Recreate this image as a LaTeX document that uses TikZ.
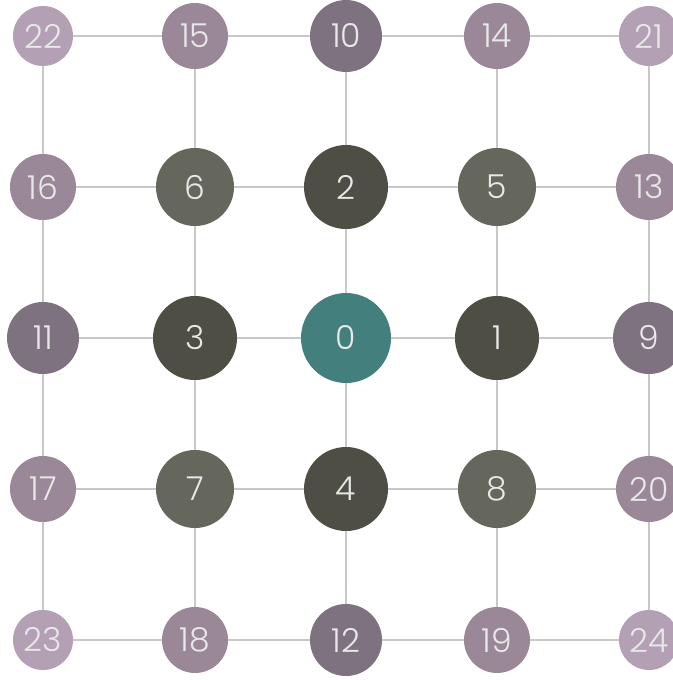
\documentclass[tikz,border=0pt]{standalone}
\usepackage{fontspec}
\setmainfont{Poppins}[UprightFont=* Light]
\definecolor{hubteal}{HTML}{427F7D}
\definecolor{ringone}{HTML}{4E4E45}
\definecolor{ringtwo}{HTML}{65665C}
\definecolor{ringthree}{HTML}{7E7280}
\definecolor{ringfour}{HTML}{9A8898}
\definecolor{ringfive}{HTML}{B3A0B4}
\definecolor{linkgray}{HTML}{C8C8C8}
\definecolor{labelwhite}{HTML}{E8E8E8}

\begin{document}
\begin{tikzpicture}[
  x=0.5pt,y=-0.5pt,
  every node/.style={font=\fontsize{16.5}{19}\selectfont,text=labelwhite},
  hop/.style={circle,inner sep=0pt},
  hub/.style={hop,fill=hubteal,minimum size=45pt},
  hopone/.style={hop,fill=ringone,minimum size=42pt},
  hoptwo/.style={hop,fill=ringtwo,minimum size=39pt},
  hopthree/.style={hop,fill=ringthree,minimum size=36pt},
  hopfour/.style={hop,fill=ringfour,minimum size=33pt},
  hopfive/.style={hop,fill=ringfive,minimum size=30pt},
  link/.style={draw=linkgray,line width=0.7pt},
  thicklink/.style={draw=linkgray,line width=1.1pt},
]
  \useasboundingbox (0,0) rectangle (673,680);
  \clip (0,0) rectangle (673,680);
  % Row 1
  \node[hopfive]  (n22) at (43,36)  {22};
  \node[hopfour]  (n15) at (195,36) {15};
  \node[hopthree] (n10) at (346,36) {10};
  \node[hopfour]  (n14) at (497,36) {14};
  \node[hopfive]  (n21) at (649,36) {21};
  % Row 2
  \node[hopfour]  (n16) at (43,187)  {16};
  \node[hoptwo]   (n6)  at (195,187) {6};
  \node[hopone]   (n2)  at (346,187) {2};
  \node[hoptwo]   (n5)  at (497,187) {5};
  \node[hopfour]  (n13) at (649,187) {13};
  % Row 3
  \node[hopthree] (n11) at (43,338)  {11};
  \node[hopone]   (n3)  at (195,338) {3};
  \node[hub]      (n0)  at (346,338) {0};
  \node[hopone]   (n1)  at (497,338) {1};
  \node[hopthree] (n9)  at (649,338) {9};
  % Row 4
  \node[hopfour]  (n17) at (43,489)  {17};
  \node[hoptwo]   (n7)  at (195,489) {7};
  \node[hopone]   (n4)  at (346,489) {4};
  \node[hoptwo]   (n8)  at (497,489) {8};
  \node[hopfour]  (n20) at (649,489) {20};
  % Row 5
  \node[hopfive]  (n23) at (43,640)  {23};
  \node[hopfour]  (n18) at (195,640) {18};
  \node[hopthree] (n12) at (346,640) {12};
  \node[hopfour]  (n19) at (497,640) {19};
  \node[hopfive]  (n24) at (649,640) {24};
  % Grid links
  \foreach \a/\b in {22/15,15/10,10/14,14/21,16/6,6/2,2/5,5/13,11/3,3/0,0/1,1/9,
                     17/7,8/20,23/18,18/12,12/19,19/24,
                     22/16,16/11,11/17,17/23,15/6,6/3,3/7,7/18,10/2,2/0,0/4,4/12,
                     14/5,8/19,21/13,13/9,9/20,20/24}
    \draw[link] (n\a) -- (n\b);
  \foreach \a/\b in {7/4,4/8,5/1,1/8}
    \draw[thicklink] (n\a) -- (n\b);
\end{tikzpicture}
\end{document}
